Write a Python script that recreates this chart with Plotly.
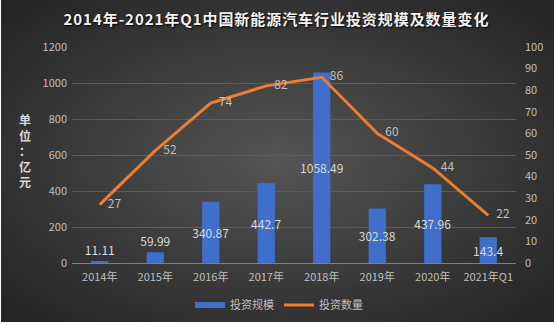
import base64
import plotly.graph_objects as go

categories = ["2014年", "2015年", "2016年", "2017年", "2018年", "2019年", "2020年", "2021年Q1"]
invest_scale = [11.11, 59.99, 340.87, 442.7, 1058.49, 302.38, 437.96, 143.4]
invest_count = [27, 52, 74, 82, 86, 60, 44, 22]
scale_labels = ["11.11", "59.99", "340.87", "442.7", "1058.49", "302.38", "437.96", "143.4"]
label_pos = ["outside", "outside", "inside", "inside", "inside", "inside", "inside", "inside"]
title_text = "2014年-2021年Q1中国新能源汽车行业投资规模及数量变化"

W, H = 554, 325
L, R, T, B = 72, 38, 47, 62
FONT = "Noto Sans CJK SC"
BLUE = "#3F6FCB"
ORANGE = "#ED7D31"

fig = go.Figure()
fig.add_trace(go.Bar(
    x=categories, y=invest_scale, name="投资规模", showlegend=False, legendgroup="a",
    marker=dict(color=BLUE, line=dict(width=0)),
    text=scale_labels, textposition=label_pos, insidetextanchor="middle",
    textangle=0, constraintext="none",
    textfont=dict(color="#d9d9d9", size=12, family=FONT),
    insidetextfont=dict(color="#d9d9d9", size=12, family=FONT),
    outsidetextfont=dict(color="#d9d9d9", size=12, family=FONT),
    cliponaxis=False, yaxis="y",
))
fig.add_trace(go.Scatter(
    x=[None], y=[None], name="投资规模", mode="lines", legendgroup="a",
    line=dict(color=BLUE, width=6), showlegend=True,
))
fig.add_trace(go.Scatter(
    x=categories, y=invest_count, name="投资数量", mode="lines+text",
    line=dict(color=ORANGE, width=3),
    text=["   " + str(v) for v in invest_count], textposition="middle right",
    textfont=dict(color="#bfbfbf", size=12, family=FONT),
    yaxis="y2", cliponaxis=False,
))

svg = f'''<svg xmlns="http://www.w3.org/2000/svg" width="{W}" height="{H}">
<defs><radialGradient id="g" cx="50%" cy="50%" r="65%">
<stop offset="0%" stop-color="#555555"/><stop offset="100%" stop-color="#262626"/>
</radialGradient></defs>
<rect x="0" y="0" width="{W}" height="{H}" fill="url(#g)"/></svg>'''
uri = "data:image/svg+xml;base64," + base64.b64encode(svg.encode()).decode()
pw, ph = W - L - R, H - T - B
x0 = (1 - L) / pw
y1 = 1 + T / ph
fig.add_layout_image(dict(source=uri, xref="paper", yref="paper", x=x0, y=y1,
                          sizex=(W - 1) / pw, sizey=322 / ph, sizing="stretch",
                          xanchor="left", yanchor="top", layer="below"))

spaced_title = "\u200a".join(title_text)

fig.update_layout(
    width=W, height=H, margin=dict(l=L, r=R, t=T, b=B, autoexpand=False),
    paper_bgcolor="white", plot_bgcolor="rgba(0,0,0,0)",
    font=dict(family=FONT, color="#bfbfbf", size=11),
    bargap=0.69, showlegend=True,
    title=dict(text="<b>" + spaced_title + "</b>",
               x=(276 - L) / pw, xref="paper", xanchor="center", y=1 - 20 / H, yanchor="middle",
               font=dict(size=15, color="#f2f2f2", family=FONT,
                         shadow="1px 1px 2px #000000")),
    xaxis=dict(showgrid=False, showline=True, linecolor="#7f7f7f", linewidth=1,
               ticks="", tickfont=dict(size=11, color="#bfbfbf"), fixedrange=True,
               ticklabelstandoff=4),
    yaxis=dict(range=[0, 1200], dtick=200, showgrid=True, gridcolor="#5c5c5c", gridwidth=1,
               zeroline=False, showline=False, tickfont=dict(size=11, color="#bfbfbf"),
               ticklabelstandoff=4),
    yaxis2=dict(range=[0, 100], dtick=10, overlaying="y", side="right", showgrid=False,
                zeroline=False, showline=False, tickfont=dict(size=11, color="#bfbfbf"),
                ticklabelstandoff=8),
    legend=dict(orientation="h", x=(279 - L) / pw, xanchor="center", y=-(305 - 263) / ph,
                yanchor="middle", font=dict(size=11, color="#bfbfbf"),
                bgcolor="rgba(0,0,0,0)", itemwidth=30),
    annotations=[dict(text="<b>单<br>位<br>：<br>亿<br>元</b>", xref="paper", yref="paper",
                      x=(25 - L) / pw, y=1 - (150 - T) / ph, showarrow=False,
                      font=dict(size=12, color="#d9d9d9", family=FONT),
                      xanchor="center", yanchor="middle")],
)

fig.write_html("out.html")
